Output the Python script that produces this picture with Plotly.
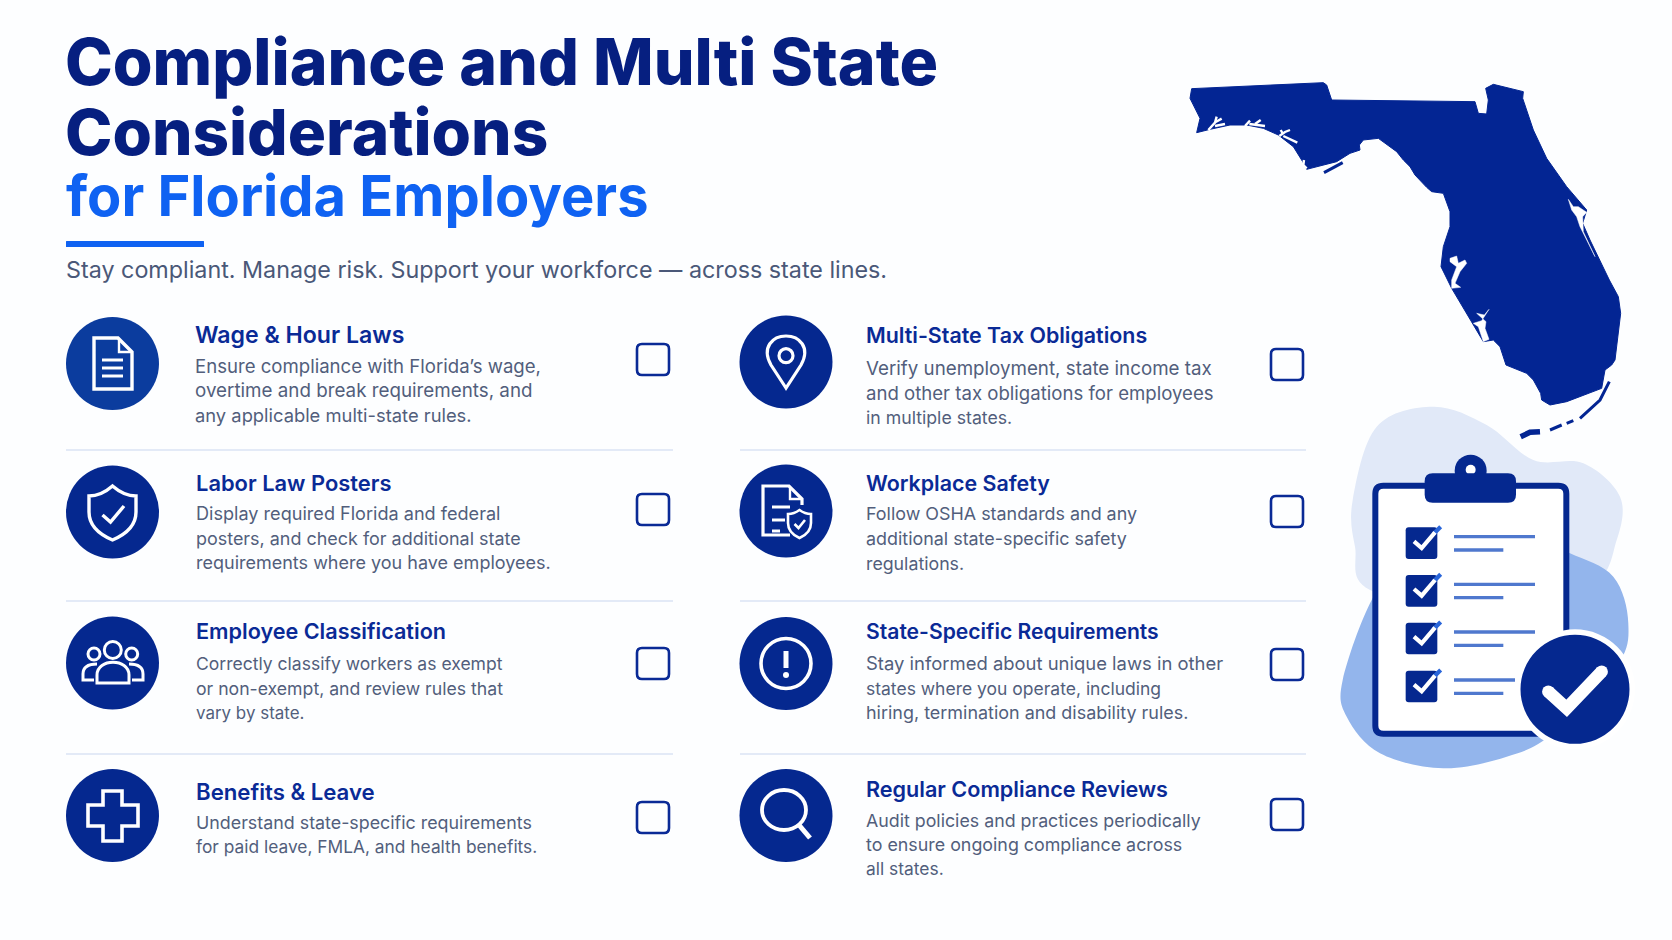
import plotly.graph_objects as go

# ---------- content ----------
TITLE_LINES = ["Compliance and Multi State", "Considerations"]
TITLE_ACCENT = "for Florida Employers"
SUBTITLE = "Stay compliant. Manage risk. Support your workforce — across state lines."

LEFT_HEADINGS = ["Wage & Hour Laws", "Labor Law Posters", "Employee Classification", "Benefits & Leave"]
LEFT_DESCRIPTIONS = [
    ["Ensure compliance with Florida’s wage,", "overtime and break requirements, and", "any applicable multi-state rules."],
    ["Display required Florida and federal", "posters, and check for additional state", "requirements where you have employees."],
    ["Correctly classify workers as exempt", "or non-exempt, and review rules that", "vary by state."],
    ["Understand state-specific requirements", "for paid leave, FMLA, and health benefits."],
]
RIGHT_HEADINGS = ["Multi-State Tax Obligations", "Workplace Safety", "State-Specific Requirements", "Regular Compliance Reviews"]
RIGHT_DESCRIPTIONS = [
    ["Verify unemployment, state income tax", "and other tax obligations for employees", "in multiple states."],
    ["Follow OSHA standards and any", "additional state-specific safety", "regulations."],
    ["Stay informed about unique laws in other", "states where you operate, including", "hiring, termination and disability rules."],
    ["Audit policies and practices periodically", "to ensure ongoing compliance across", "all states."],
]

# ---------- layout positions ----------
LEFT_CIRCLE_Y = [363.5, 512, 663, 815.5]
RIGHT_CIRCLE_Y = [362, 511, 663.5, 815.5]
LEFT_HEAD_BASE = [343, 491, 639, 800]
RIGHT_HEAD_BASE = [343, 491, 639, 797]
LEFT_DESC_BASE = [[373, 397, 422], [520, 545, 569], [670, 695, 719], [829, 853]]
RIGHT_DESC_BASE = [[375, 400, 424], [520.5, 545.5, 569.5], [670, 695, 719], [826.5, 850.5, 875]]
LEFT_BOX_Y = [344, 494, 648, 802]
RIGHT_BOX_Y = [349, 496, 649, 799]
DIVIDER_Y = [450, 601, 754]
LEFT_HEAD_SIZE = [23.1, 21.9, 21.6, 22.2]
RIGHT_HEAD_SIZE = [21.4, 21.4, 21.1, 21.6]
LEFT_DESC_SIZE = [[18.6, 18.8, 18.35], [18.1, 17.95, 18.0], [17.55, 17.65, 16.95], [17.85, 17.35]]
RIGHT_DESC_SIZE = [[18.75, 18.6, 17.7], [17.9, 17.9, 17.75], [18.45, 17.5, 17.95], [17.8, 17.85, 17.4]]
LEFT_TEXT_X = [192.5, 193.5, 193.8, 193.8]

NAVY = "#05288F"
TITLE_NAVY = "#061F80"
BLUE = "#0F62F2"
SUB = "#4A5878"
HEAD = "#0A2A96"
DESC = "#525E7C"
RULE = "#E3EAF7"
FONT = "Inter"

shapes, notes = [], []


def sh(path, fill=None, line=None, w=0):
    shapes.append(dict(type="path", path=path, xref="x", yref="y", layer="below",
                       fillcolor=fill or "rgba(0,0,0,0)",
                       line=dict(color=line or "rgba(0,0,0,0)", width=w)))


def circ(cx, cy, r, fill=None, line=None, w=0, ry=None):
    ry = ry or r
    shapes.append(dict(type="circle", x0=cx - r, x1=cx + r, y0=cy - ry, y1=cy + ry, xref="x", yref="y",
                       layer="below", fillcolor=fill or "rgba(0,0,0,0)",
                       line=dict(color=line or "rgba(0,0,0,0)", width=w)))


def rr(x0, y0, x1, y1, r):
    return (f"M{x0+r},{y0} L{x1-r},{y0} Q{x1},{y0} {x1},{y0+r} L{x1},{y1-r} Q{x1},{y1} {x1-r},{y1} "
            f"L{x0+r},{y1} Q{x0},{y1} {x0},{y1-r} L{x0},{y0+r} Q{x0},{y0} {x0+r},{y0} Z")


def poly(pts, close=False):
    return "M" + " L".join(f"{x},{y}" for x, y in pts) + (" Z" if close else "")


def text(x, base, s, size, color, weight=400, k=0.364):
    notes.append(dict(x=x, y=base - k * size, text=s, xref="x", yref="y", xanchor="left", yanchor="middle",
                      align="left", showarrow=False,
                      font=dict(family=FONT, size=size, color=color, weight=weight)))


# ---------- header ----------
text(63, 85.5, TITLE_LINES[0], 64.3, TITLE_NAVY, 800)
text(63, 154.5, TITLE_LINES[1], 63.8, TITLE_NAVY, 800)
text(63.5, 216, TITLE_ACCENT, 56, BLUE, 700)
sh(rr(66, 241, 204, 247, 0.5), fill=BLUE)
text(64, 278, SUBTITLE, 23.3, SUB, 400)

# ---------- rows ----------
for i in range(4):
    text(LEFT_TEXT_X[i], LEFT_HEAD_BASE[i], LEFT_HEADINGS[i], LEFT_HEAD_SIZE[i], HEAD, 600)
    for b, line, size in zip(LEFT_DESC_BASE[i], LEFT_DESCRIPTIONS[i], LEFT_DESC_SIZE[i]):
        text(LEFT_TEXT_X[i], b, line, size, DESC, 400)
    text(864, RIGHT_HEAD_BASE[i], RIGHT_HEADINGS[i], RIGHT_HEAD_SIZE[i], HEAD, 600)
    for b, line, size in zip(RIGHT_DESC_BASE[i], RIGHT_DESCRIPTIONS[i], RIGHT_DESC_SIZE[i]):
        text(864, b, line, size, DESC, 400)
    circ(112.5, LEFT_CIRCLE_Y[i], 46.5, fill="#0B3C9E" if i == 0 else NAVY)
    circ(786, RIGHT_CIRCLE_Y[i], 46.5, fill=NAVY)
    sh(rr(637, LEFT_BOX_Y[i], 669, LEFT_BOX_Y[i] + 31, 5), line="#0A2A96", w=2.6)
    sh(rr(1271, RIGHT_BOX_Y[i], 1303, RIGHT_BOX_Y[i] + 31, 5), line="#0A2A96", w=2.6)
for y in DIVIDER_Y:
    sh(poly([(66, y), (673, y)]), line=RULE, w=2)
    sh(poly([(740, y), (1306, y)]), line=RULE, w=2)

W = "#FFFFFF"
# document icon
sh("M94,338 L118,338 L132,352 L132,389 L94,389 Z", line=W, w=3.4)
sh("M119,339 L119,352 L131,352", line=W, w=2.4)
for y in (360, 368, 376):
    sh(f"M102,{y} L123,{y}", line=W, w=3)
# shield icon
sh("M112.5,486 Q124,496 136,496 L136,512 Q136,530 112.5,540 Q89,530 89,512 L89,496 Q101,496 112.5,486 Z", line=W, w=3.4)
sh("M102.5,515 L110.5,522 L124,506", line=W, w=3.4)
# people icon
circ(112.8, 650, 8.5, line=W, w=3)
circ(94, 654, 6, line=W, w=3)
circ(131.7, 654, 6, line=W, w=3)
sh("M97,683 L97,675 C97,658 129,658 129,675 L129,683 Z", line=W, w=3)
sh("M94,680 L83,680 L83,674 C83,666 90,664 97,664", line=W, w=3)
sh("M132,680 L143,680 L143,674 C143,666 136,664 129,664", line=W, w=3)
# plus icon
sh(poly([(103, 791), (122, 791), (122, 805), (138, 805), (138, 826), (122, 826), (122, 841), (103, 841),
         (103, 826), (88, 826), (88, 805), (103, 805)], True), line=W, w=3.6)
# pin icon
sh("M786,388 L771,365 C761,347 773,336 786,336 C799,336 811,347 801,365 Z", line=W, w=3.2)
circ(786, 355.7, 7, line=W, w=3.2)
# document with shield icon
sh("M790,535 L763,535 L763,486 L789,486 L802,499 L802,505", line=W, w=3.2)
sh("M790,487 L790,499 L801,499", line=W, w=2.4)
for y, x1 in ((507, 790), (520, 785), (531, 780)):
    sh(f"M772,{y} L{x1},{y}", line=W, w=3)
sh("M799.5,510 Q805,514 811,514 L811,523 Q811,533 799.5,538 Q788,533 788,523 L788,514 Q794,514 799.5,510 Z",
   fill=NAVY, line=W, w=2.6)
sh("M794.5,524 L798.5,528 L805,520", line=W, w=2.6)
# alert icon
circ(786, 663.5, 25, line=W, w=3.6)
sh("M786,651 L786,668", line=W, w=5)
circ(786, 675, 3, fill=W)
# magnifier icon
circ(784, 810, 22, ry=20, line=W, w=3.8)
sh("M799,825 L810,838", line=W, w=5)

# ---------- clipboard illustration (points in px = origin + zoom/3) ----------
def cz(x, y):
    return 1320 + x / 3, 400 + y / 3


def cp(fmt_pts, close=True):
    return poly([cz(*p) for p in fmt_pts], close)


def smooth(pts):
    p = [cz(*q) for q in pts]
    n = len(p)
    d = f"M{p[0][0]:.1f},{p[0][1]:.1f}"
    for i in range(n):
        p0, p1, p2, p3 = p[(i - 1) % n], p[i], p[(i + 1) % n], p[(i + 2) % n]
        c1 = (p1[0] + (p2[0] - p0[0]) / 6, p1[1] + (p2[1] - p0[1]) / 6)
        c2 = (p2[0] - (p3[0] - p1[0]) / 6, p2[1] - (p3[1] - p1[1]) / 6)
        d += f" C{c1[0]:.1f},{c1[1]:.1f} {c2[0]:.1f},{c2[1]:.1f} {p2[0]:.1f},{p2[1]:.1f}"
    return d + " Z"


sh(smooth([(150, 570), (105, 440), (98, 300), (170, 80), (340, 20), (500, 75), (640, 180), (790, 190),
           (900, 290), (890, 420), (810, 560), (500, 640)]), fill="#E1E9F8")
sh(smooth([(450, 420), (620, 410), (750, 460), (880, 530), (925, 670), (890, 800), (700, 1000), (560, 1070), (370, 1105),
           (180, 1060), (80, 950), (68, 840), (155, 600), (260, 480)]), fill="#93B5EC")
x0, y0 = cz(166, 257)
x1, y1 = cz(739, 1001)
sh(rr(x0, y0, x1, y1, 8), fill=W, line=NAVY, w=6)
cx, cy = cz(452, 212)
circ(cx, cy, 16, fill=NAVY)
circ(cx, cy - 1, 5, fill=W)
x0, y0 = cz(314, 220)
x1, y1 = cz(588, 308)
sh(rr(x0, y0, x1, y1, 8), fill=NAVY)
for i, top in enumerate((382, 525, 668, 812)):
    x0, y0 = cz(257, top)
    x1, y1 = cz(352, top + 95)
    sh(rr(x0, y0, x1, y1, 3), fill=NAVY)
    sh(cp([(340, top + 20), (362, top - 2)], False), line="#2A66DA", w=4.2)
    sh(cp([(282, top + 42), (305, top + 62), (345, top + 15)], False), line=W, w=4.2)
    end = 585 if i == 3 else 645
    sh(cp([(402, top + 28), (end, top + 28)], False), line="#4F78CE", w=3.4)
    sh(cp([(402, top + 68), (550, top + 68)], False), line="#4F78CE", w=3.4)
cx, cy = cz(765, 868)
circ(cx, cy, 60, fill=W)
circ(cx, cy, 54.5, fill=NAVY)
sh(cp([(685, 875), (740, 925), (845, 815)], False), line=W, w=12.5)
for pt in ((685, 875), (845, 815)):
    px, py = cz(*pt)
    circ(px, py, 6.25, fill=W)

# ---------- Florida (px = origin + zoom/3) ----------
FL_OUTLINE = [(125, 116), (520, 98), (530, 105), (545, 150), (975, 155), (985, 190), (1010, 192), (1015, 150),
              (1007, 115), (1030, 103), (1120, 125), (1118, 145), (1150, 240), (1190, 325), (1250, 410), (1310, 480),
              (1298, 520), (1320, 570), (1378, 690), (1405, 740), (1412, 790), (1395, 930), (1385, 945), (1365, 960),
              (1355, 1015), (1250, 1055), (1200, 1065), (1175, 1050), (1172, 1030), (1150, 990), (1130, 970),
              (1080, 950), (1068, 945), (1050, 890), (1030, 870), (1000, 875), (965, 815), (905, 715), (873, 650),
              (880, 590), (900, 530), (900, 485), (880, 430), (845, 425), (830, 412), (815, 395), (795, 375),
              (780, 350), (760, 330), (740, 305), (685, 265), (640, 270), (628, 285), (630, 300), (600, 310),
              (560, 335), (470, 358), (458, 335), (430, 290), (385, 255), (340, 235), (290, 225), (240, 225),
              (180, 238), (140, 248), (150, 205), (120, 145), (125, 116)]
FL_KEYS = [[(1378, 995), (1350, 1050), (1290, 1105)], [(1270, 1112), (1250, 1120)], [(1235, 1125), (1200, 1140)],
           [(1112, 1160), (1140, 1147), (1170, 1145)], [(522, 368), (578, 338)]]
FL_INLETS = [[(175, 240), (195, 218), (200, 200)], [(195, 228), (225, 222)], [(197, 216), (215, 206)],
             [(285, 228), (300, 212)], [(298, 222), (345, 228)], [(315, 222), (332, 210)],
             [(388, 258), (405, 246), (420, 240)], [(400, 258), (442, 278)], [(398, 250), (392, 240)],
             [(462, 330), (460, 345), (470, 355)]]
FL_BAYS = [[(900, 625), (920, 618), (925, 640), (945, 630), (950, 640), (930, 665), (915, 700), (932, 712), (905, 715),
            (905, 690), (920, 650), (900, 635)],
           [(1017, 778), (1003, 795), (980, 790), (1008, 815), (1005, 835), (1017, 868), (1000, 875), (985, 830),
            (970, 820), (995, 812)],
           [(1255, 448), (1270, 470), (1285, 470), (1310, 487), (1298, 500), (1300, 545), (1335, 620), (1290, 530),
            (1280, 500), (1265, 480)]]


def fx(pts):
    return [1150 + p[0] / 3 for p in pts]


def fy(pts):
    return [50 + p[1] / 3 for p in pts]


fig = go.Figure()
fig.add_trace(go.Scatter(x=fx(FL_OUTLINE), y=fy(FL_OUTLINE), mode="lines", fill="toself", fillcolor="#032593",
                         line=dict(color="#032593", width=1), hoverinfo="skip"))
for k, pts in enumerate(FL_KEYS):
    fig.add_trace(go.Scatter(x=fx(pts), y=fy(pts), mode="lines", hoverinfo="skip",
                             line=dict(color="#032593", width=5.5 if k == 3 else 3)))
for pts in FL_INLETS:
    fig.add_trace(go.Scatter(x=fx(pts), y=fy(pts), mode="lines", hoverinfo="skip",
                             line=dict(color="#FFFFFF", width=2.4)))
for pts in FL_BAYS:
    fig.add_trace(go.Scatter(x=fx(pts + pts[:1]), y=fy(pts + pts[:1]), mode="lines", fill="toself",
                             fillcolor="#FFFFFF", hoverinfo="skip", line=dict(color="#FFFFFF", width=0.5)))

fig.update_layout(
    width=1672, height=940, margin=dict(l=0, r=0, t=0, b=0),
    paper_bgcolor="#FDFEFF", plot_bgcolor="#FDFEFF", showlegend=False, hovermode=False,
    xaxis=dict(range=[0, 1672], visible=False, fixedrange=True),
    yaxis=dict(range=[940, 0], visible=False, fixedrange=True),
    shapes=shapes, annotations=notes,
)
fig.write_html("out.html", config={"displayModeBar": False},
               post_script="document.body.style.margin='0';document.body.style.overflow='hidden';")
